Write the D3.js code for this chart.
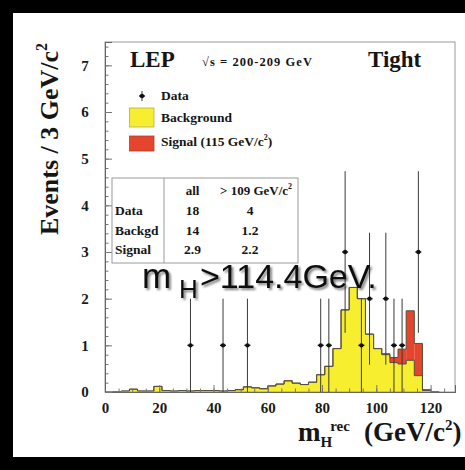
<!DOCTYPE html>
<html>
<head>
<meta charset="utf-8">
<script src="https://cdn.jsdelivr.net/npm/d3@7"></script>
<style>
  html, body { margin: 0; padding: 0; background: #000; }
  svg { display: block; }
</style>
</head>
<body>
<svg id="chart" width="465" height="470"></svg>
<script>
// Reconstructed Higgs mass, tight selection, 3 GeV/c^2 bins starting at 0
const binWidth = 3;
const background = [
  0.00, 0.01, 0.02, 0.06, 0.02, 0.02, 0.12, 0.03, 0.02, 0.03,
  0.02, 0.03, 0.03, 0.03, 0.02, 0.03, 0.05, 0.11, 0.09, 0.07,
  0.13, 0.17, 0.24, 0.19, 0.16, 0.21, 0.37, 0.55, 0.93, 1.76,
  2.24, 2.00, 1.24, 0.93, 0.80, 0.63, 0.60, 0.68, 0.35, 0.03,
  0.01
];
const signal = [
  0, 0, 0, 0, 0, 0, 0, 0, 0, 0,
  0, 0, 0, 0, 0, 0, 0, 0, 0, 0,
  0, 0, 0, 0, 0, 0, 0, 0, 0, 0,
  0, 0, 0, 0, 0.02, 0.11, 0.32, 1.06, 0.69, 0.02,
  0
];
// Observed candidates: bin centres (GeV/c^2) and counts
const dataMass   = [31.5, 43.5, 52.5, 79.5, 82.5, 88.5, 94.5, 97.5, 103.5, 106.5, 109.5, 115.5];
const dataCounts = [1, 1, 1, 1, 1, 3, 1, 2, 2, 1, 1, 3];

const xTicks = [0, 20, 40, 60, 80, 100, 120];
const yTicks = [0, 1, 2, 3, 4, 5, 6, 7];

const legendLabels = ["Data", "Background", "Signal (115 GeV/c"];
const tableHeader = ["all", "> 109 GeV/c"];
const tableRows = ["Data", "Backgd", "Signal"];
const tableAll = ["18", "14", "2.9"];
const tableHigh = ["4", "1.2", "2.2"];

const YELLOW = "#f6ee2e";
const RED = "#e5452c";
const SERIF = "'Liberation Serif', 'Times New Roman', serif";
const SANS = "'Liberation Sans', Arial, sans-serif";

const svg = d3.select("#chart");
const W = 465, H = 470;
const plot = { left: 105, right: 455, top: 42, bottom: 392 };

// black surround with white page
svg.append("rect").attr("width", W).attr("height", H).attr("fill", "#000");
svg.append("rect").attr("x", 13).attr("y", 13).attr("width", W - 13).attr("height", 444).attr("fill", "#fff");

const x = d3.scaleLinear().domain([0, 129]).range([plot.left, plot.right]);
const y = d3.scaleLinear().domain([0, 7.5]).range([plot.bottom, plot.top]);

const bins = background.map((b, i) => ({
  lo: i * binWidth, hi: (i + 1) * binWidth, bg: b, sig: signal[i], tot: b + signal[i]
}));

// step outlines
const stepPts = key => {
  const pts = bins.map(d => [d.lo, d[key]]);
  pts.push([bins[bins.length - 1].hi, 0]);
  return pts;
};

const g = svg.append("g");

// background fill
g.append("path")
  .datum(stepPts("bg"))
  .attr("fill", YELLOW)
  .attr("d", d3.area().curve(d3.curveStepAfter).x(d => x(d[0])).y0(y(0)).y1(d => y(d[1])));

// signal stacked on top of background
g.selectAll("rect.sig")
  .data(bins.filter(d => d.sig > 0))
  .join("rect")
  .attr("class", "sig")
  .attr("x", d => x(d.lo))
  .attr("width", d => x(d.hi) - x(d.lo))
  .attr("y", d => y(d.tot))
  .attr("height", d => y(d.bg) - y(d.tot))
  .attr("fill", RED);

const stepLine = d3.line().curve(d3.curveStepAfter).x(d => x(d[0])).y(d => y(d[1]));
g.append("path").datum(stepPts("bg"))
  .attr("fill", "none").attr("stroke", "#55503a").attr("stroke-width", 1).attr("d", stepLine);
g.append("path").datum(stepPts("tot"))
  .attr("fill", "none").attr("stroke", "#55503a").attr("stroke-width", 1).attr("d", stepLine);

// frame
svg.append("rect")
  .attr("x", plot.left).attr("y", plot.top)
  .attr("width", plot.right - plot.left).attr("height", plot.bottom - plot.top)
  .attr("fill", "none").attr("stroke", "#9a9a9a").attr("stroke-width", 1);

// axes with inward ticks
const xAxis = d3.axisBottom(x).tickValues(xTicks).tickSize(-7).tickPadding(10).tickFormat(d3.format("d"));
const xMinor = d3.axisBottom(x).tickValues(d3.range(0, 129, 5)).tickSize(-3.5).tickFormat("");
const yAxis = d3.axisLeft(y).tickValues(yTicks).tickSize(-7).tickFormat(d3.format("d"));
const yMinor = d3.axisLeft(y).tickValues(d3.range(0, 7.5, 0.2)).tickSize(-3.5).tickFormat("");

function styleAxis(sel) {
  sel.select(".domain").attr("stroke", "#666");
  sel.selectAll(".tick line").attr("stroke", "#777");
  sel.selectAll(".tick text")
    .attr("font-family", SERIF).attr("font-weight", "bold").attr("font-size", 15).attr("fill", "#1a1a1a");
}
svg.append("g").attr("transform", `translate(0,${plot.bottom})`).call(xMinor).call(styleAxis);
svg.append("g").attr("transform", `translate(0,${plot.bottom})`).call(xAxis).call(styleAxis);
svg.append("g").attr("transform", `translate(${plot.left},0)`).call(yMinor).call(styleAxis);
svg.append("g").attr("transform", `translate(${plot.left},0)`).call(yAxis).call(styleAxis)
  .selectAll(".tick text").attr("text-anchor", "middle").attr("x", -20);

// data points with sqrt(n) error bars
const pts = dataMass.map((m, i) => ({ m, n: dataCounts[i] }));
const dg = svg.append("g");
dg.selectAll("line.err").data(pts).join("line")
  .attr("x1", d => x(d.m)).attr("x2", d => x(d.m))
  .attr("y1", d => y(Math.max(0, d.n - Math.sqrt(d.n))))
  .attr("y2", d => y(d.n + Math.sqrt(d.n)))
  .attr("stroke", "#3a3a3a").attr("stroke-width", 1);
dg.selectAll("line.cap").data(pts).join("line")
  .attr("x1", d => x(d.m) - 3).attr("x2", d => x(d.m) + 3)
  .attr("y1", d => y(d.n)).attr("y2", d => y(d.n))
  .attr("stroke", "#111").attr("stroke-width", 1.4);
dg.selectAll("circle").data(pts).join("circle")
  .attr("cx", d => x(d.m)).attr("cy", d => y(d.n)).attr("r", 2.2).attr("fill", "#111");

// headline texts
const txt = (px, py, s, size, weight) => svg.append("text")
  .attr("x", px).attr("y", py).attr("font-family", SERIF)
  .attr("font-size", size).attr("font-weight", weight || "bold").attr("fill", "#151515").text(s);
txt(130, 67, "LEP", 23);
txt(368, 67, "Tight", 23);
txt(202, 66, "\u221As = 200-209 GeV", 12.5, "bold").attr("textLength", 110).attr("lengthAdjust", "spacing");

// legend
const lg = svg.append("g");
lg.append("line").attr("x1", 142).attr("x2", 142).attr("y1", 91).attr("y2", 101).attr("stroke", "#333");
lg.append("line").attr("x1", 139).attr("x2", 145).attr("y1", 96).attr("y2", 96).attr("stroke", "#111").attr("stroke-width", 1.4);
lg.append("circle").attr("cx", 142).attr("cy", 96).attr("r", 2.2).attr("fill", "#111");
lg.append("rect").attr("x", 129.5).attr("y", 108).attr("width", 24.5).attr("height", 19)
  .attr("fill", YELLOW).attr("stroke", "#b5ad50").attr("stroke-width", 0.8);
lg.append("rect").attr("x", 129.5).attr("y", 136).attr("width", 24.5).attr("height", 15)
  .attr("fill", RED).attr("stroke", "#b04030").attr("stroke-width", 0.8);
txt(161, 100, legendLabels[0], 13.5);
txt(161, 122, legendLabels[1], 13.5);
const sigTxt = txt(161, 146, legendLabels[2], 13.5);
sigTxt.append("tspan").attr("font-size", 8).attr("dy", -6).text("2");
sigTxt.append("tspan").attr("dy", 6).text(")");

// summary table
const tg = svg.append("g");
tg.append("rect").attr("x", 112).attr("y", 178).attr("width", 186).attr("height", 85)
  .attr("fill", "#fff").attr("stroke", "#9a9a9a").attr("stroke-width", 1);
tg.append("line").attr("x1", 164).attr("x2", 164).attr("y1", 178).attr("y2", 263)
  .attr("stroke", "#9a9a9a").attr("stroke-width", 1);
txt(192.5, 195, tableHeader[0], 13).attr("text-anchor", "middle");
const hdr = txt(256, 195, tableHeader[1], 13).attr("text-anchor", "middle");
hdr.append("tspan").attr("font-size", 8).attr("dy", -6).text("2");
tableRows.forEach((r, i) => {
  const by = 215 + i * 19.5;
  txt(115, by, r, 13.5);
  txt(192.5, by, tableAll[i], 13.5).attr("text-anchor", "middle");
  txt(250, by, tableHigh[i], 13.5).attr("text-anchor", "middle");
});

// axis titles
const yt = svg.append("text")
  .attr("transform", "translate(58,139) rotate(-90)")
  .attr("text-anchor", "middle").attr("font-family", SERIF)
  .attr("font-size", 26).attr("font-weight", "bold").attr("fill", "#151515")
  .text("Events / 3 GeV/c");
yt.append("tspan").attr("font-size", 16).attr("dy", -11).text("2");

const xt = svg.append("text").attr("font-family", SERIF).attr("font-weight", "bold").attr("fill", "#151515");
xt.append("tspan").attr("x", 298).attr("y", 441).attr("font-size", 27).text("m");
xt.append("tspan").attr("font-size", 15).attr("dy", 6).text("H");
xt.append("tspan").attr("font-size", 15).attr("dy", -16).attr("dx", -2).text("rec");
xt.append("tspan").attr("x", 364).attr("y", 441).attr("font-size", 27).text("(GeV/c");
xt.append("tspan").attr("font-size", 15).attr("dy", -11).text("2");
xt.append("tspan").attr("font-size", 27).attr("dy", 11).text(")");

// limit annotation with soft shadow
const defs = svg.append("defs");
const f = defs.append("filter").attr("id", "shadow").attr("x", "-10%").attr("y", "-30%").attr("width", "120%").attr("height", "160%");
f.append("feGaussianBlur").attr("in", "SourceAlpha").attr("stdDeviation", 1.2).attr("result", "b");
f.append("feOffset").attr("in", "b").attr("dx", 1.5).attr("dy", 1.5).attr("result", "o");
f.append("feComponentTransfer").attr("in", "o").attr("result", "s")
  .append("feFuncA").attr("type", "linear").attr("slope", 0.5);
const fm = f.append("feMerge");
fm.append("feMergeNode").attr("in", "s");
fm.append("feMergeNode").attr("in", "SourceGraphic");

const lim = svg.append("g").attr("filter", "url(#shadow)")
  .attr("font-family", SANS).attr("fill", "#111");
lim.append("text").attr("x", 142).attr("y", 288).attr("font-size", 35).text("m");
lim.append("text").attr("x", 179).attr("y", 298).attr("font-size", 26).text("H");
lim.append("text").attr("x", 200).attr("y", 288).attr("font-size", 34).text(">114.4GeV.");
</script>
</body>
</html>
